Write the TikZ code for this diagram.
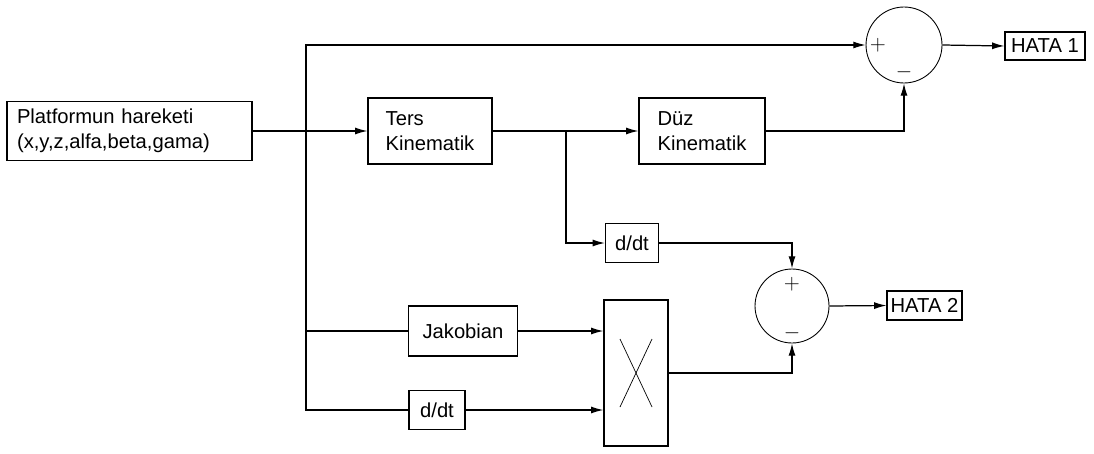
\documentclass[tikz,border=0pt]{standalone}
\usepackage{fontspec}
\setmainfont{Liberation Sans}
\usetikzlibrary{arrows.meta}

\begin{document}
\begin{tikzpicture}[
  x=0.02cm, y=-0.02cm,
  every node/.style={font=\fontsize{11.5}{14.2}\selectfont},
  block/.style={draw, line width=0.7pt, inner sep=0pt, align=left},
  sumnode/.style={draw, circle, line width=0.5pt, inner sep=0pt},
  sign/.style={inner sep=0pt, font=\fontsize{13}{15}\selectfont},
  signal/.style={line width=0.7pt, -{Latex[length=7pt,width=4pt]}},
  wire/.style={line width=0.7pt}
]
  \useasboundingbox (0,0) rectangle (1094,453);

  \node[block, inner xsep=0.2cm, text width=4.5cm, minimum height=1.18cm] (platform) at (129.5,131) {Platformun hareketi\\(x,y,z,alfa,beta,gama)};
  \node[block, minimum width=2.48cm, minimum height=1.32cm] (ters) at (430,131) {Ters\\Kinematik};
  \node[block, minimum width=2.52cm, minimum height=1.32cm] (duz) at (702,131) {Düz\\Kinematik};
  \node[block, minimum width=1.06cm, minimum height=0.78cm] (ddtone) at (632,243) {d/dt};
  \node[block, minimum width=2.18cm, minimum height=1.0cm] (jak) at (463,331) {Jakobian};
  \node[block, minimum width=1.12cm, minimum height=0.78cm] (ddttwo) at (437,410) {d/dt};
  \node[block, minimum width=1.28cm, minimum height=2.92cm] (mult) at (636,373) {};
  \node[sumnode, minimum size=1.52cm] (sumone) at (904,45) {};
  \node[sumnode, minimum size=1.48cm] (sumtwo) at (792,306) {};
  \node[block, minimum width=1.6cm, minimum height=0.56cm] (hataone) at (1045,46) {HATA 1};
  \node[block, minimum width=1.5cm, minimum height=0.58cm] (hatatwo) at (924.5,305.5) {HATA 2};

  \node[sign] (sumoneplus) at ([xshift=-0.52cm]sumone.center) {$+$};
  \node[sign] (sumoneminus) at ([yshift=-0.54cm]sumone.center) {$-$};
  \node[sign] (sumtwoplus) at ([yshift=0.44cm]sumtwo.center) {$+$};
  \node[sign] (sumtwominus) at ([yshift=-0.54cm]sumtwo.center) {$-$};

  \draw[line width=0.4pt] ([shift={(-16,-34)}]mult.center) -- ([shift={(16,34)}]mult.center);
  \draw[line width=0.4pt] ([shift={(16,-34)}]mult.center) -- ([shift={(-16,34)}]mult.center);

  \coordinate (split) at (306,131);
  \coordinate (branch) at (566,131);

  \draw[signal] (platform.east) -- (ters.west);
  \draw[signal] (split) |- (sumone.west);
  \draw[wire] (split) |- (jak.west);
  \draw[wire] (split) |- (ddttwo.west);
  \draw[signal] (ters.east) -- (duz.west);
  \draw[signal] (branch) |- (ddtone.west);
  \draw[signal] (duz.east) -| (sumone.south);
  \draw[signal] (sumone.east) -- (hataone.west);
  \draw[signal] (ddtone.east) -| (sumtwo.north);
  \draw[signal] (jak.east) -- (jak.east -| mult.west);
  \draw[signal] (ddttwo.east) -- (ddttwo.east -| mult.west);
  \draw[signal] (mult.east) -| (sumtwo.south);
  \draw[signal] (sumtwo.east) -- (hatatwo.west);
\end{tikzpicture}
\end{document}
